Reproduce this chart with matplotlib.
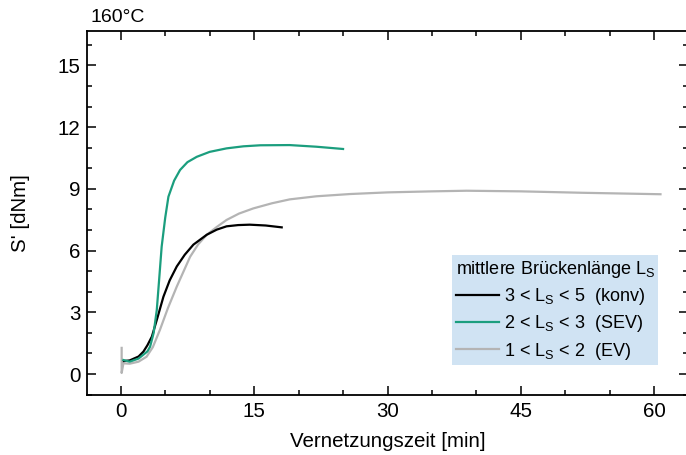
import numpy as np
import matplotlib
matplotlib.use("Agg")
import matplotlib.pyplot as plt
from matplotlib.ticker import MultipleLocator

plt.rcParams["font.family"] = ["Liberation Sans", "DejaVu Sans"]
plt.rcParams["mathtext.fontset"] = "custom"
plt.rcParams["mathtext.rm"] = "Liberation Sans"
plt.rcParams["mathtext.it"] = "Liberation Sans:italic"

# Vulkameterkurven bei 160 °C, Zeit [min] / S' [dNm]
t_konv = [0.35, 1.0, 2.0, 2.55, 3.0, 3.5, 4.1, 4.8, 5.5, 6.3, 7.2, 8.17, 9.67,
          10.8, 11.9, 13.2, 14.5, 16.3, 18.1]
s_konv = [0.63, 0.66, 0.85, 1.09, 1.4, 1.82, 2.7, 3.76, 4.55, 5.23, 5.8, 6.29, 6.77,
          7.02, 7.18, 7.24, 7.26, 7.22, 7.13]

t_sev = [0.3, 1.0, 2.0, 3.0, 3.3, 3.7, 4.05, 4.3, 4.6, 5.0, 5.36, 6.0, 6.67, 7.5,
         8.55, 10.0, 11.9, 13.8, 15.7, 19.0, 22.0, 25.0]
s_sev = [0.68, 0.6, 0.75, 1.1, 1.33, 2.0, 3.11, 4.5, 6.19, 7.6, 8.62, 9.4, 9.92, 10.3,
         10.56, 10.8, 10.97, 11.07, 11.12, 11.13, 11.05, 10.94]

t_ev = [0.1, 0.1, 0.3, 1.0, 2.0, 2.9, 3.6, 4.4, 5.3, 6.3, 7.8, 8.7, 9.67, 10.8,
        11.9, 13.3, 14.9, 17.0, 19.0, 22.0, 25.8, 30.0, 35.0, 38.9, 45.0, 52.0,
        57.0, 60.7]
s_ev = [1.27, 0.05, 0.52, 0.5, 0.6, 0.84, 1.3, 2.14, 3.2, 4.25, 5.7, 6.3, 6.77, 7.15,
        7.49, 7.8, 8.05, 8.3, 8.49, 8.64, 8.75, 8.83, 8.88, 8.91, 8.88, 8.81,
        8.77, 8.74]

lbl_konv = r"3 < L$_\mathrm{S}$ < 5  (konv)"
lbl_sev = r"2 < L$_\mathrm{S}$ < 3  (SEV)"
lbl_ev = r"1 < L$_\mathrm{S}$ < 2  (EV)"

fs = 14.8
fig = plt.figure(figsize=(6.86, 4.55), dpi=100)
ax = fig.add_axes([0.1273, 0.1319, 0.8757, 0.8006])

ax.plot(t_ev, s_ev, color="#b4b4b4", lw=1.6, label=lbl_ev, zorder=2)
ax.plot(t_konv, s_konv, color="black", lw=1.6, label=lbl_konv, zorder=3)
ax.plot(t_sev, s_sev, color="#1b9e7e", lw=1.6, label=lbl_sev, zorder=4)

ax.set_xlim(-3.76, 63.8)
ax.set_ylim(-1.02, 16.69)
ax.xaxis.set_major_locator(MultipleLocator(15))
ax.xaxis.set_minor_locator(MultipleLocator(5))
ax.yaxis.set_major_locator(MultipleLocator(3))
ax.yaxis.set_minor_locator(MultipleLocator(1))
ax.tick_params(which="both", direction="in", top=True, right=True, width=1.1,
               labelsize=fs)
ax.tick_params(which="major", length=6.5, pad=5)
ax.tick_params(which="minor", length=3.5)
for sp in ax.spines.values():
    sp.set_linewidth(1.3)

ax.set_xlabel("Vernetzungszeit [min]", fontsize=fs, labelpad=8)
ax.set_ylabel("S' [dNm]", fontsize=fs, labelpad=20)
ax.text(0.005, 1.012, "160°C", transform=ax.transAxes, fontsize=14,
        ha="left", va="bottom")

h, l = ax.get_legend_handles_labels()
order = [1, 2, 0]
leg = ax.legend([h[i] for i in order], [l[i] for i in order],
                title=r"mittlere Brückenlänge L$_\mathrm{S}$",
                title_fontsize=13, fontsize=13, alignment="left",
                loc="upper left", bbox_to_anchor=(0.659, 0.4396),
                bbox_transform=fig.transFigure, borderaxespad=0,
                frameon=True, fancybox=False, facecolor="#d0e3f3",
                edgecolor="none", framealpha=1, handlelength=2.4,
                handletextpad=0.25, labelspacing=0.35, borderpad=0.2)

fig.savefig("out.png", dpi=100)
